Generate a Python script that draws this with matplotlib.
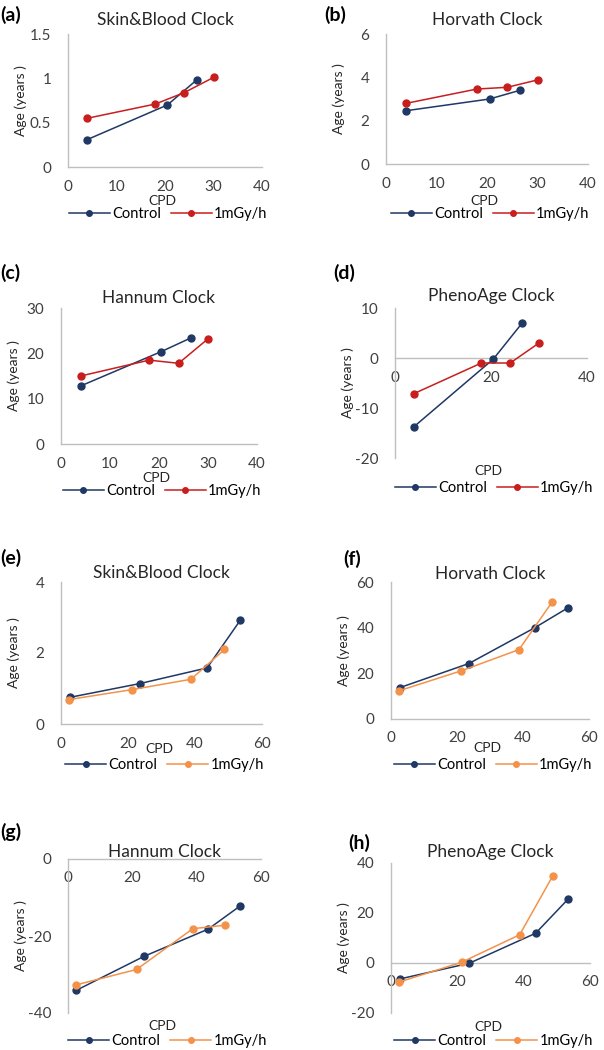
import matplotlib
matplotlib.use('Agg')
import matplotlib.pyplot as plt

plt.rcParams['font.family'] = ['Lato', 'DejaVu Sans']

# CPD / age values
cpd_ctrl_a = [4, 20.5, 26.5]
cpd_irr_a = [4, 18, 24, 30]
sb_ctrl_a = [0.31, 0.70, 0.98]
sb_irr_a = [0.55, 0.71, 0.84, 1.01]
hv_ctrl_a = [2.46, 3.0, 3.4]
hv_irr_a = [2.8, 3.46, 3.54, 3.88]
hn_ctrl_a = [12.8, 20.4, 23.4]
hn_irr_a = [15.0, 18.5, 17.8, 23.2]
ph_ctrl_a = [-13.7, -0.2, 7.0]
ph_irr_a = [-7.1, -1.0, -1.0, 3.0]

cpd_ctrl_b = [2.6, 23.6, 43.6, 53.5]
cpd_irr_b = [2.5, 21.3, 38.8, 48.8]
sb_ctrl_b = [0.75, 1.14, 1.58, 2.92]
sb_irr_b = [0.69, 0.97, 1.26, 2.1]
hv_ctrl_b = [13.7, 24.3, 40.0, 48.6]
hv_irr_b = [12.4, 21.1, 30.4, 51.2]
hn_ctrl_b = [-34.1, -25.3, -18.2, -12.2]
hn_irr_b = [-32.7, -28.7, -18.1, -17.2]
ph_ctrl_b = [-6.4, -0.1, 11.9, 25.7]
ph_irr_b = [-7.6, 0.3, 11.3, 34.9]

navy = '#1F3864'
red = '#C81E1E'
orange = '#F4924A'
grey = '#BFBFBF'

W, H = 604, 1050
fig = plt.figure(figsize=(W / 100, H / 100), dpi=100)


def px_axes(x0, x1, ytop, ybot):
    return fig.add_axes([x0 / W, 1 - ybot / H, (x1 - x0) / W, (ybot - ytop) / H])


panels = [
    # letter, title, rect(px), xlim, xticks, ylim, yticks, ylabels, xaxis_at, data, col2, letter pos, title y, cpd y, legend y
    ('(a)', 'Skin&Blood Clock', (68, 262, 34, 167), (0, 40), [0, 10, 20, 30, 40], (0, 1.5), [0, 0.5, 1, 1.5],
     ['0', '0.5', '1', '1.5'], None, (cpd_ctrl_a, sb_ctrl_a, cpd_irr_a, sb_irr_a), red, (0, 15), 20, 201, 214),
    ('(b)', 'Horvath Clock', (386, 588, 34, 164), (0, 40), [0, 10, 20, 30, 40], (0, 6), [0, 2, 4, 6],
     ['0', '2', '4', '6'], None, (cpd_ctrl_a, hv_ctrl_a, cpd_irr_a, hv_irr_a), red, (324, 15), 20, 201, 214),
    ('(c)', 'Hannum Clock', (61, 257, 308, 444), (0, 40), [0, 10, 20, 30, 40], (0, 30), [0, 10, 20, 30],
     ['0', '10', '20', '30'], None, (cpd_ctrl_a, hn_ctrl_a, cpd_irr_a, hn_irr_a), red, (0, 273), 298, 478, 491),
    ('(d)', 'PhenoAge Clock', (395, 587, 308, 458), (0, 40), [0, 20, 40], (-20, 10), [-20, -10, 0, 10],
     ['-20', '-10', '0', '10'], 0, (cpd_ctrl_a, ph_ctrl_a, cpd_irr_a, ph_irr_a), red, (333, 273), 296, 471, 488),
    ('(e)', 'Skin&Blood Clock', (61, 262, 582, 724), (0, 60), [0, 20, 40, 60], (0, 4), [0, 2, 4],
     ['0', '2', '4'], None, (cpd_ctrl_b, sb_ctrl_b, cpd_irr_b, sb_irr_b), orange, (0, 558), 573, 749, 765),
    ('(f)', 'Horvath Clock', (391, 589, 582, 719), (0, 60), [0, 20, 40, 60], (0, 60), [0, 20, 40, 60],
     ['0', '20', '40', '60'], None, (cpd_ctrl_b, hv_ctrl_b, cpd_irr_b, hv_irr_b), orange, (343, 559), 574, 748, 765),
    ('(g)', 'Hannum Clock', (68, 261, 859, 1013), (0, 60), [0, 20, 40, 60], (-40, 0), [-40, -20, 0],
     ['-40', '-20', '0'], 0, (cpd_ctrl_b, hn_ctrl_b, cpd_irr_b, hn_irr_b), orange, (0, 832), 852, 1026, 1041),
    ('(h)', 'PhenoAge Clock', (391, 590, 863, 1013), (0, 60), [0, 20, 40, 60], (-20, 40), [-20, 0, 20, 40],
     ['-20', '0', '20', '40'], 0, (cpd_ctrl_b, ph_ctrl_b, cpd_irr_b, ph_irr_b), orange, (348, 843), 852, 1027, 1041),
]

for (letter, title, rect, xlim, xticks, ylim, yticks, ylabels, xaxis_at, data, col2,
     lpos, ty, cpdy, legy) in panels:
    x0, x1, ytop, ybot = rect
    ax = px_axes(x0, x1, ytop, ybot)
    cx, cy, ix, iy = data
    l1, = ax.plot(cx, cy, '-o', color=navy, lw=1.1, ms=5, label='Control', zorder=3)
    l2, = ax.plot(ix, iy, '-o', color=col2, lw=1.1, ms=5, label='1mGy/h', zorder=3)
    ax.set_xlim(xlim)
    ax.set_ylim(ylim)
    ax.set_xticks(xticks)
    ax.set_xticklabels([str(t) for t in xticks])
    ax.set_yticks(yticks)
    ax.set_yticklabels(ylabels)
    for s in ['top', 'right']:
        ax.spines[s].set_visible(False)
    for s in ['left', 'bottom']:
        ax.spines[s].set_color(grey)
        ax.spines[s].set_linewidth(1.0)
    if xaxis_at is not None:
        ax.spines['bottom'].set_position(('data', xaxis_at))
    ax.tick_params(length=0, labelsize=11, colors='#404040')
    ax.tick_params(axis='x', pad=9)
    ax.tick_params(axis='y', pad=12)
    ax.set_facecolor('none')

    fig.text(lpos[0] / W, 1 - lpos[1] / H, letter, fontsize=14, fontweight='bold', va='center', ha='left')
    fig.text((x0 + x1) / 2 / W, 1 - ty / H, title, fontsize=12.5, va='center', ha='center', color='#262626')
    fig.text((x0 - 47) / W, 1 - (ytop + ybot) / 2 / H, 'Age (years )', fontsize=10, rotation=90,
             va='center', ha='center', color='#262626')
    fig.text((x0 + x1) / 2 / W - 0.004, 1 - cpdy / H, 'CPD', fontsize=10, va='center', ha='center', color='#262626')
    ax.legend(handles=[l1, l2], loc='center', bbox_to_anchor=((x0 + x1) / 2 / W + 0.005, 1 - legy / H),
              bbox_transform=fig.transFigure, ncol=2, frameon=False, fontsize=10.5, handlelength=2.8,
              columnspacing=0.7, handletextpad=0.15, markerscale=0.8, borderpad=0)

fig.savefig('out.png', dpi=100, facecolor='white')
